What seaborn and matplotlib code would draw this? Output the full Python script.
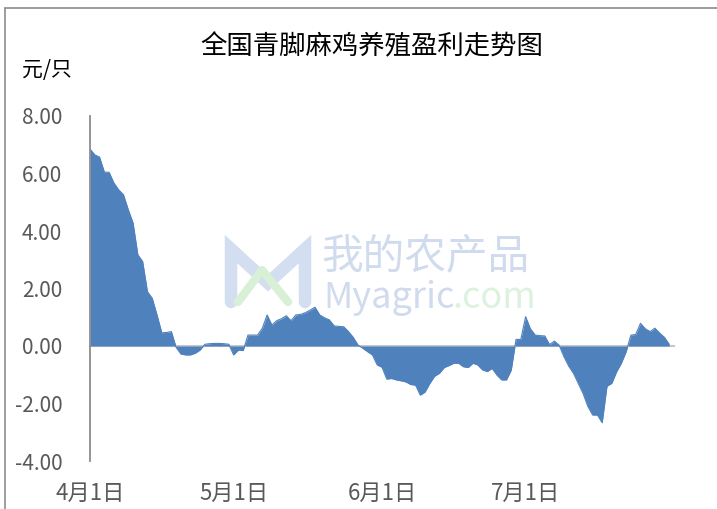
import numpy as np
import pandas as pd
import matplotlib
matplotlib.use("Agg")
import matplotlib.pyplot as plt
import matplotlib.dates as mdates
from matplotlib.lines import Line2D
import seaborn as sns

# daily profit, yuan per bird, starting 4月1日
start_date = "2023-04-01"
profit = [
    6.85, 6.65, 6.57, 6.05, 6.04, 5.67, 5.43, 5.26, 4.74, 4.28,
    3.17, 2.94, 1.89, 1.66, 1.08, 0.46, 0.47, 0.50, -0.05, -0.28,
    -0.31, -0.31, -0.25, -0.14, 0.06, 0.08, 0.09, 0.09, 0.08, 0.06,
    -0.31, -0.14, -0.16, 0.38, 0.38, 0.38, 0.62, 1.08, 0.73, 0.88,
    0.95, 1.05, 0.88, 1.08, 1.10, 1.16, 1.25, 1.35, 1.08, 0.98,
    0.91, 0.70, 0.68, 0.67, 0.50, 0.30, 0.03, -0.08, -0.20, -0.31,
    -0.66, -0.74, -1.15, -1.13, -1.18, -1.21, -1.25, -1.34, -1.36, -1.71,
    -1.60, -1.30, -1.05, -0.95, -0.75, -0.68, -0.60, -0.60, -0.72, -0.75,
    -0.60, -0.66, -0.83, -0.89, -0.78, -1.01, -1.18, -1.18, -0.84, 0.23,
    0.23, 1.02, 0.60, 0.38, 0.36, 0.35, 0.05, 0.17, 0.03, -0.37,
    -0.70, -0.95, -1.30, -1.65, -2.10, -2.40, -2.40, -2.67, -1.40, -1.30,
    -0.90, -0.60, -0.20, 0.38, 0.40, 0.79, 0.60, 0.50, 0.62, 0.45,
    0.30, 0.06,
]
month_ticks = ["2023-04-01", "2023-05-01", "2023-06-01", "2023-07-01"]
month_labels = ["4月1日", "5月1日", "6月1日", "7月1日"]
y_ticks = [-4, -2, 0, 2, 4, 6, 8]

df = pd.DataFrame({
    "date": pd.date_range(start_date, periods=len(profit), freq="D"),
    "profit": profit,
})

sns.set_theme(style="white")
plt.rcParams["font.family"] = ["Noto Sans CJK SC", "DejaVu Sans"]

W, H = 717, 509
fig = plt.figure(figsize=(W / 100, H / 100), dpi=100)
fig.patch.set_facecolor("white")


def px(x, y):
    # pixel position -> figure fraction
    return x / W, 1 - y / H


# outer frame of the chart area (only left/top visible)
fig.add_artist(Line2D([5 / W, 5 / W], [0, 1 - 8 / H], color="#8c8c8c", lw=1.2))
fig.add_artist(Line2D([5 / W, 1], [1 - 8 / H, 1 - 8 / H], color="#8c8c8c", lw=1.2))

# faint watermark logo + text
m_pts = [px(231, 302), px(231, 249), px(268, 283), px(305, 249), px(305, 302)]
fig.add_artist(Line2D([p[0] for p in m_pts], [p[1] for p in m_pts],
                      color="#d3def0", lw=9, solid_joinstyle="miter", zorder=0))
tri = [px(238, 302), px(262, 270), px(288, 302)]
fig.add_artist(Line2D([p[0] for p in tri], [p[1] for p in tri],
                      color="#d8f0d6", lw=6, zorder=0))
fig.text(*px(425, 258), "我的农产品", fontsize=30, color="#d0dbee",
         ha="center", va="center", zorder=0)
fig.text(*px(323, 298), "Myagric", fontsize=26, color="#d0dbee",
         ha="left", va="center", zorder=0)
fig.text(*px(452, 298), ".com", fontsize=26, color="#dcf2df",
         ha="left", va="center", zorder=0)

ax = fig.add_axes([90 / W, (H - 461) / H, (674 - 90) / W, (461 - 116) / H])
ax.set_facecolor("none")

blue = "#4f81bd"
ax.fill_between(df["date"], df["profit"], 0, color=blue, lw=0)
sns.lineplot(data=df, x="date", y="profit", ax=ax, color=blue, lw=0.8)

ax.set_xlim(pd.Timestamp("2023-04-01"), pd.Timestamp("2023-08-01"))
ax.set_ylim(-4, 8)
ax.set_yticks(y_ticks)
ax.set_yticklabels([f"{v:.2f}" for v in y_ticks])
ax.set_xticks(pd.to_datetime(month_ticks))
ax.set_xlabel("")
ax.set_ylabel("")

for s in ["top", "right"]:
    ax.spines[s].set_visible(False)
ax.spines["left"].set_color("#8c8c8c")
ax.spines["left"].set_linewidth(1.3)
ax.spines["bottom"].set_position(("data", 0))
ax.spines["bottom"].set_color("#c8c8c8")
ax.spines["bottom"].set_linewidth(1.5)
ax.spines["bottom"].set_zorder(0.5)

ax.tick_params(axis="y", direction="out", length=4, width=1.2, color="#8c8c8c",
               pad=16, labelsize=15, labelcolor="#595959")
ax.tick_params(axis="x", direction="out", length=4, width=1.2, color="#c8c8c8",
               labelbottom=False)

for d, lab in zip(pd.to_datetime(month_ticks), month_labels):
    ax.annotate(lab, xy=(mdates.date2num(d), 0), xycoords=("data", "axes fraction"),
                xytext=(0, -23), textcoords="offset points",
                ha="center", va="center", fontsize=16, color="#595959")

fig.text(*px(372, 47), "全国青脚麻鸡养殖盈利走势图", fontsize=19,
         color="black", ha="center", va="center", fontweight="medium")
fig.text(*px(22, 70), "元/只", fontsize=15, color="black",
         ha="left", va="center", fontweight="medium")

fig.savefig("out.png", dpi=100, facecolor="white")
